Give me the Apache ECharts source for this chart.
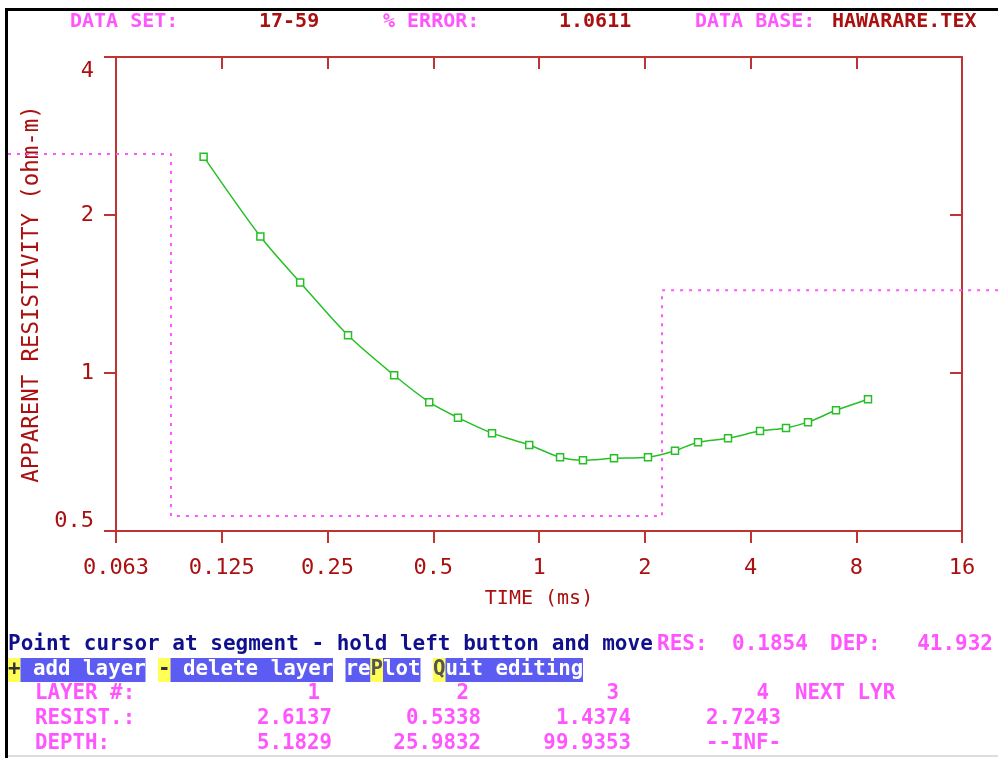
<!DOCTYPE html>
<html>
<head>
<meta charset="utf-8">
<title>HAWARARE.TEX 17-59</title>
<script src="https://cdn.jsdelivr.net/npm/echarts@6.0.0/dist/echarts.min.js"></script>
<style>
  html, body { margin: 0; padding: 0; background: #fff; }
  #chart { width: 998px; height: 758px; }
</style>
</head>
<body>
<div id="chart"></div>
<script>
// measured data: time (ms) / apparent resistivity (ohm-m)
const timeMs = [0.111, 0.161, 0.209, 0.286, 0.387, 0.487, 0.588, 0.735, 0.938, 1.148, 1.334, 1.635, 2.043, 2.439, 2.836, 3.452, 4.257, 5.048, 5.831, 7.006, 8.64];
const apparentRes = [2.583, 1.820, 1.488, 1.180, 0.990, 0.880, 0.822, 0.768, 0.729, 0.691, 0.682, 0.688, 0.691, 0.711, 0.738, 0.751, 0.775, 0.786, 0.806, 0.849, 0.891];

// layered model (step line), layer boundaries drawn in time units
const modelTime = [0.0896, 2.24];
const modelRes = [2.6137, 0.5338, 1.4374];

// axis ticks
const timeTicks = [0.0625, 0.125, 0.25, 0.5, 1, 2, 4, 8, 16];
const resTicks = [0.5, 1, 2, 4];

// layer table
const layerNo = ['1', '2', '3', '4'];
const layerResist = ['2.6137', '0.5338', '1.4374', '2.7243'];
const layerDepth = ['5.1829', '25.9832', '99.9353', '--INF-'];

const MAG = '#ff55ff';
const DRED = '#aa1010';
const AXIS = '#be3434';
const NAVY = '#10108c';
const HIBLUE = '#5c5cf2';
const HIYEL = '#ffff55';
const GREEN = '#26c026';
const MONO = '"DejaVu Sans Mono", "Liberation Mono", monospace';

const fnt = (size, bold) => (bold ? 'bold ' : '') + size + 'px ' + MONO;

function txt(x, y, s, fill, size, align, bold) {
  return {
    type: 'text', x: x, y: y, z: 50,
    style: { text: s, fill: fill, font: fnt(size, bold !== false), align: align || 'left', verticalAlign: 'middle' }
  };
}

const graphics = [];
// window frame
graphics.push({ type: 'rect', z: 100, shape: { x: 5, y: 8, width: 3, height: 750 }, style: { fill: '#000' } });
graphics.push({ type: 'rect', z: 100, shape: { x: 5, y: 8, width: 993, height: 3 }, style: { fill: '#000' } });
graphics.push({ type: 'rect', z: 100, shape: { x: 8, y: 755, width: 990, height: 2 }, style: { fill: '#dddddd' } });

// header
[['DATA SET:', 70, MAG], ['17-59', 259, DRED], ['% ERROR:', 383, MAG], ['1.0611', 559, DRED],
 ['DATA BASE:', 695, MAG], ['HAWARARE.TEX', 832, DRED]].forEach(h => {
  graphics.push(txt(h[1], 22, h[0], h[2], 20));
});

// status line
graphics.push(txt(8, 645, 'Point cursor at segment - hold left button and move', NAVY, 21));
graphics.push(txt(657, 645, 'RES:', MAG, 21));
graphics.push(txt(732, 645, '0.1854', MAG, 21));
graphics.push(txt(830, 645, 'DEP:', MAG, 21));
graphics.push(txt(993, 645, '41.932', MAG, 21, 'right'));

// menu line
const menuSegs = [
  ['+', 0, HIYEL, '#333'], [' add layer', 1, HIBLUE, '#fff'],
  ['-', 12, HIYEL, '#333'], [' delete layer', 13, HIBLUE, '#fff'],
  ['re', 27, HIBLUE, '#fff'], ['P', 29, HIYEL, '#555'], ['lot', 30, HIBLUE, '#fff'],
  ['Q', 34, HIYEL, '#555'], ['uit editing', 35, HIBLUE, '#fff']
];
const cw = 12.5;
menuSegs.forEach(s => {
  const x0 = 8 + s[1] * cw;
  graphics.push({ type: 'rect', z: 40, shape: { x: x0, y: 658, width: s[0].length * cw, height: 24 }, style: { fill: s[2] } });
  graphics.push(txt(x0, 670, s[0], s[3], 20.8));
});

// layer table
const colRight = [332, 481, 631, 781];
graphics.push(txt(35, 694, 'LAYER #:', MAG, 20.8));
graphics.push(txt(35, 719, 'RESIST.:', MAG, 20.8));
graphics.push(txt(35, 744, 'DEPTH:', MAG, 20.8));
layerNo.forEach((n, i) => graphics.push(txt(colRight[i] - 12, 694, n, MAG, 20.8, 'right')));
layerResist.forEach((v, i) => graphics.push(txt(colRight[i], 719, v, MAG, 20.8, 'right')));
layerDepth.forEach((v, i) => graphics.push(txt(colRight[i], 744, v, MAG, 20.8, 'right')));
graphics.push(txt(795, 694, 'NEXT LYR', MAG, 20.8));

const tickLabel = v => {
  if (Math.abs(v - 0.0625) < 1e-9) return '0.063';
  return String(+(+v).toPrecision(4));
};

// plot frame in pixels; the model line lives in a wider hidden grid
// sharing the same log scale so it can run past the frame
const plotL = 116, plotR = 962, plotT = 57, plotB = 531;
const wideL = 8, wideR = 998;
const octavePx = (plotR - plotL) / Math.log2(timeTicks[timeTicks.length - 1] / timeTicks[0]);
const wideMin = timeTicks[0] * Math.pow(2, (wideL - plotL) / octavePx);
const wideMax = timeTicks[timeTicks.length - 1] * Math.pow(2, (wideR - plotR) / octavePx);

// step-line points: start at left edge, break at each boundary, run to right edge
const modelX = [wideMin].concat(modelTime, [wideMax]);
const modelY = modelRes.concat([modelRes[modelRes.length - 1]]);

const myChart = echarts.init(document.getElementById('chart'));

const baseAxis = {
  type: 'log',
  logBase: 2,
  interval: 1,
  axisLine: { show: true, lineStyle: { color: AXIS, width: 2 } },
  splitLine: { show: false },
  minorTick: { show: false }
};

const option = {
  animation: false,
  backgroundColor: '#ffffff',
  grid: [
    { left: plotL, right: 998 - plotR, top: plotT, bottom: 758 - plotB, outerBoundsMode: 'none', containLabel: false },
    { left: wideL, right: 998 - wideR, top: plotT, bottom: 758 - plotB, outerBoundsMode: 'none', containLabel: false }
  ],
  xAxis: [
    Object.assign({}, baseAxis, {
      gridIndex: 0, position: 'bottom', min: timeTicks[0], max: timeTicks[timeTicks.length - 1], splitNumber: 8,
      name: 'TIME (ms)', nameLocation: 'middle', nameGap: 58,
      nameTextStyle: { color: DRED, fontFamily: MONO, fontSize: 20 },
      axisTick: { show: true, inside: false, length: 12, lineStyle: { color: AXIS, width: 2 } },
      axisLabel: { color: DRED, fontFamily: MONO, fontSize: 22, margin: 26, formatter: tickLabel, showMinLabel: true, showMaxLabel: true }
    }),
    Object.assign({}, baseAxis, {
      gridIndex: 0, position: 'top', min: timeTicks[0], max: timeTicks[timeTicks.length - 1], splitNumber: 8,
      axisTick: { show: true, inside: true, length: 12, lineStyle: { color: AXIS, width: 2 } },
      axisLabel: { show: false }
    }),
    { gridIndex: 1, type: 'log', logBase: 2, min: wideMin, max: wideMax, show: false }
  ],
  yAxis: [
    Object.assign({}, baseAxis, {
      gridIndex: 0, position: 'left', min: resTicks[0], max: resTicks[resTicks.length - 1], splitNumber: 3,
      name: 'APPARENT RESISTIVITY (ohm-m)', nameLocation: 'middle', nameGap: 69, nameRotate: 90,
      nameTextStyle: { color: DRED, fontFamily: MONO, fontSize: 22.4 },
      axisTick: { show: true, inside: false, length: 12, lineStyle: { color: AXIS, width: 2 } },
      axisLabel: {
        color: DRED, fontFamily: MONO, fontSize: 22, margin: 22, showMinLabel: true, showMaxLabel: true,
        formatter: v => {
          const s = tickLabel(v);
          if (Math.abs(v - 4) < 1e-9) return '{mx|' + s + '}';
          if (Math.abs(v - 0.5) < 1e-9) return '{mn|' + s + '}';
          return s;
        },
        rich: {
          mx: { color: DRED, fontFamily: MONO, fontSize: 22, padding: [28, 0, 0, 0] },
          mn: { color: DRED, fontFamily: MONO, fontSize: 22, padding: [0, 0, 20, 0] }
        }
      }
    }),
    Object.assign({}, baseAxis, {
      gridIndex: 0, position: 'right', min: resTicks[0], max: resTicks[resTicks.length - 1], splitNumber: 3,
      axisTick: { show: true, inside: true, length: 12, lineStyle: { color: AXIS, width: 2 } },
      axisLabel: { show: false }
    }),
    { gridIndex: 1, type: 'log', logBase: 2, min: resTicks[0], max: resTicks[resTicks.length - 1], show: false }
  ],
  series: [
    {
      name: 'model',
      type: 'line',
      xAxisIndex: 2,
      yAxisIndex: 2,
      step: 'end',
      clip: false,
      symbol: 'none',
      silent: true,
      z: 3,
      lineStyle: { color: MAG, width: 2, type: [3, 6] },
      data: modelX.map((t, i) => [t, modelY[i]])
    },
    {
      name: 'measured',
      type: 'line',
      xAxisIndex: 0,
      yAxisIndex: 0,
      smooth: 0.3,
      symbol: 'rect',
      symbolSize: 7,
      z: 4,
      lineStyle: { color: GREEN, width: 1.5 },
      itemStyle: { color: '#ffffff', borderColor: GREEN, borderWidth: 1.5 },
      data: timeMs.map((t, i) => [t, apparentRes[i]])
    }
  ],
  graphic: { elements: graphics }
};

myChart.setOption(option);
</script>
</body>
</html>
